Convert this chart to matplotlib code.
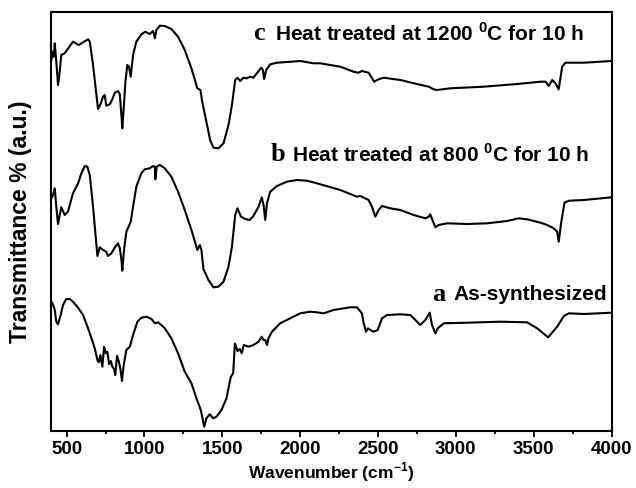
import numpy as np
import matplotlib.pyplot as plt
import matplotlib.transforms as mtransforms

plt.rcParams['font.family'] = ['Liberation Sans', 'DejaVu Sans']
plt.rcParams['mathtext.fontset'] = 'custom'
plt.rcParams['mathtext.rm'] = 'Liberation Sans:bold'
plt.rcParams['mathtext.bf'] = 'Liberation Sans:bold'

# (a) as-synthesized
wn_a = [402, 413, 424, 434, 445, 462, 477, 498, 520, 541, 574, 606, 638, 664, 681, 698,
        707, 717, 730, 741, 752, 762, 773, 784, 794, 805, 813, 824, 835, 845, 856, 867,
        884, 906, 927, 955, 980, 1013, 1045, 1067, 1088, 1131, 1173, 1216, 1259, 1302,
        1334, 1362, 1373, 1384, 1398, 1420, 1441, 1463, 1495, 1527, 1555, 1570, 1581,
        1598, 1612, 1625, 1638, 1669, 1700, 1733, 1754, 1765, 1776, 1787, 1797, 1819,
        1872, 1936, 2001, 2065, 2108, 2151, 2215, 2322, 2365, 2397, 2408, 2423, 2436,
        2451, 2472, 2498, 2526, 2558, 2644, 2708, 2740, 2772, 2804, 2832, 2847, 2869,
        2884, 2923, 3072, 3286, 3458, 3522, 3593, 3651, 3694, 3726, 3822, 4000]
t_a = [129.3, 126.7, 121, 109.3, 106.7, 116, 126, 132, 132, 129.3, 123.3, 116, 102.7, 91,
       82.7, 71, 68.7, 76, 64.3, 84.3, 77.7, 79.3, 66.7, 70, 64.3, 62, 56, 75.3, 70, 62.7,
       50, 66, 81, 84.3, 96, 109.3, 113.3, 114.3, 112, 107.7, 108.7, 102.7, 92.7, 77.7,
       59.3, 47.7, 32.7, 21, 12.7, 4.3, 12.7, 16.7, 12.7, 14.3, 21, 32.7, 54.3, 57.7,
       87.5, 80, 82, 77.7, 86, 84.3, 86, 89.3, 94.3, 91, 91, 86, 92.7, 99.3, 107.7, 112.7,
       117.7, 119.3, 118.7, 117.7, 121, 123.7, 123.7, 117.7, 107.7, 99.3, 102.7, 101,
       99.3, 101, 112.7, 116, 116.7, 116, 111, 106, 111, 118.3, 106, 97.7, 102.7, 107.7,
       108.3, 109.3, 108.7, 102.7, 93.7, 104.3, 115, 117.7, 117, 118.3]

# (b) 800 C, 10 h
wn_b = [402, 413, 424, 434, 445, 456, 466, 488, 509, 541, 574, 595, 617, 633, 649, 670,
        698, 713, 734, 755, 766, 788, 810, 831, 842, 852, 858, 869, 884, 912, 927, 948,
        980, 1002, 1034, 1056, 1067, 1070, 1079, 1099, 1131, 1173, 1216, 1259, 1302,
        1340, 1356, 1366, 1379, 1411, 1443, 1475, 1508, 1540, 1562, 1583, 1598, 1620,
        1647, 1675, 1700, 1733, 1754, 1765, 1776, 1787, 1808, 1851, 1915, 1979, 2044,
        2108, 2258, 2365, 2386, 2440, 2461, 2483, 2504, 2526, 2579, 2644, 2729, 2804,
        2826, 2836, 2854, 2869, 2890, 2944, 3072, 3201, 3330, 3404, 3458, 3544, 3587,
        3629, 3651, 3661, 3676, 3698, 3726, 3822, 4000]
t_b = [232.7, 236, 242.7, 224.3, 207, 216, 223.7, 216, 219.3, 237.7, 247.7, 257.7, 265,
       264.3, 256, 224.3, 175, 183.7, 181, 179.3, 175, 177.7, 183.7, 187.7, 182.7, 171,
       160.3, 181, 199.3, 209.3, 224.3, 244.3, 257.7, 261.7, 262.7, 265, 264.3, 251.7,
       264.3, 266, 262.7, 254.3, 239.3, 221, 201, 181, 186, 181, 162, 151, 143.7, 144.3,
       149.3, 164.3, 184.3, 216, 222.7, 214.3, 212, 211, 215, 224.3, 233.7, 226, 211,
       227.7, 239.3, 245, 249.3, 251, 250.3, 247.7, 241, 234.3, 235, 231, 224.3, 214.3,
       221, 225, 222.7, 221, 216, 212.7, 214.3, 216.7, 209.3, 203.7, 206, 207.7, 207,
       207.7, 210, 212.7, 211.7, 208.3, 206, 202.7, 199.3, 189.3, 207.7, 228.3, 230.3,
       231, 233.7]

# (c) 1200 C, 10 h
wn_c = [402, 413, 419, 424, 434, 445, 456, 466, 488, 541, 578, 606, 638, 649, 670, 702,
        720, 734, 745, 755, 777, 792, 810, 831, 842, 852, 858, 867, 878, 890, 901, 912,
        927, 948, 980, 1006, 1034, 1056, 1067, 1077, 1099, 1131, 1173, 1216, 1259, 1302,
        1340, 1360, 1371, 1398, 1422, 1443, 1475, 1508, 1540, 1562, 1583, 1598, 1615,
        1636, 1658, 1679, 1700, 1722, 1750, 1761, 1769, 1782, 1808, 1851, 1915, 2001,
        2086, 2129, 2258, 2343, 2375, 2397, 2440, 2476, 2504, 2536, 2644, 2751, 2826,
        2858, 2879, 2965, 3179, 3394, 3544, 3576, 3597, 3619, 3640, 3661, 3683, 3704,
        3822, 4000]
t_c = [371, 379.3, 374.3, 387.7, 369.3, 346, 359.3, 376, 377.7, 389.3, 386, 388.7, 391.7,
       389.3, 366, 322, 327.7, 334.3, 336, 325.3, 326.7, 331, 338.3, 340, 336.7, 316,
       302.7, 322.7, 349.3, 366, 364.3, 354.3, 376, 389.3, 396.7, 399.3, 397, 400, 392.7,
       401, 405.3, 405, 402, 394.3, 381, 362.7, 342.7, 341, 329.3, 309.3, 291, 283.3,
       282.7, 287.7, 306, 326, 351, 353.3, 350, 353.3, 352.7, 354.3, 353.3, 357.7, 363.3,
       361, 352, 361, 366.7, 368.3, 369, 370, 367.7, 367.7, 364.3, 359.3, 358.3, 360,
       358.3, 349.3, 351.7, 353.3, 351, 347, 344.3, 341.7, 341, 342.7, 344.3, 347, 349.3,
       349.3, 345, 351, 347.7, 341.7, 364.3, 368.3, 368.3, 370]

labels = ['a', 'b', 'c']
captions = ['As-synthesized',
            r'Heat treated at 800 $^{\mathbf{0}}$C for 10 h',
            r'Heat treated at 1200 $^{\mathbf{0}}$C for 10 h']
label_pos = [(2849, 137), (1808, 277), (1699, 398)]

fig = plt.figure(figsize=(6.36, 4.88), dpi=100)
ax = fig.add_axes([0.0802, 0.1168, 0.8813, 0.8586])

for wn, t in [(wn_a, t_a), (wn_b, t_b), (wn_c, t_c)]:
    ax.plot(wn, t, color='black', linewidth=1.5)

# letter tag in serif, caption in sans shifted to the right of it
shifted = mtransforms.offset_copy(ax.transData, fig=fig, x=15.5, y=0, units='points')
for lab, cap, (x, y) in zip(labels, captions, label_pos):
    ax.text(x, y, lab, fontsize=19, fontweight='bold', family='Liberation Serif',
            ha='left', va='center')
    ax.text(x, y, cap, fontsize=15, fontweight='bold', ha='left', va='center',
            transform=shifted)

ax.set_xlim(400, 4000)
ax.set_ylim(0, 419)
ax.set_xticks([500, 1000, 1500, 2000, 2500, 3000, 3500, 4000])
ax.set_xticks(np.arange(750, 4000, 500), minor=True)
ax.set_yticks([])
ax.tick_params(axis='x', which='major', direction='out', length=4, width=1.3,
               labelsize=13.5, pad=3)
ax.tick_params(axis='x', which='minor', direction='out', length=2.5, width=1.3)
for lbl in ax.get_xticklabels():
    lbl.set_fontweight('bold')
for s in ax.spines.values():
    s.set_linewidth(1.5)

ax.set_xlabel(r'Wavenumber (cm$^{\mathbf{-1}}$)', fontsize=12.5, fontweight='bold', labelpad=2)
ax.set_ylabel('Transmittance % (a.u.)', fontsize=16.5, fontweight='bold', labelpad=14)

fig.savefig('out.png', dpi=100)
